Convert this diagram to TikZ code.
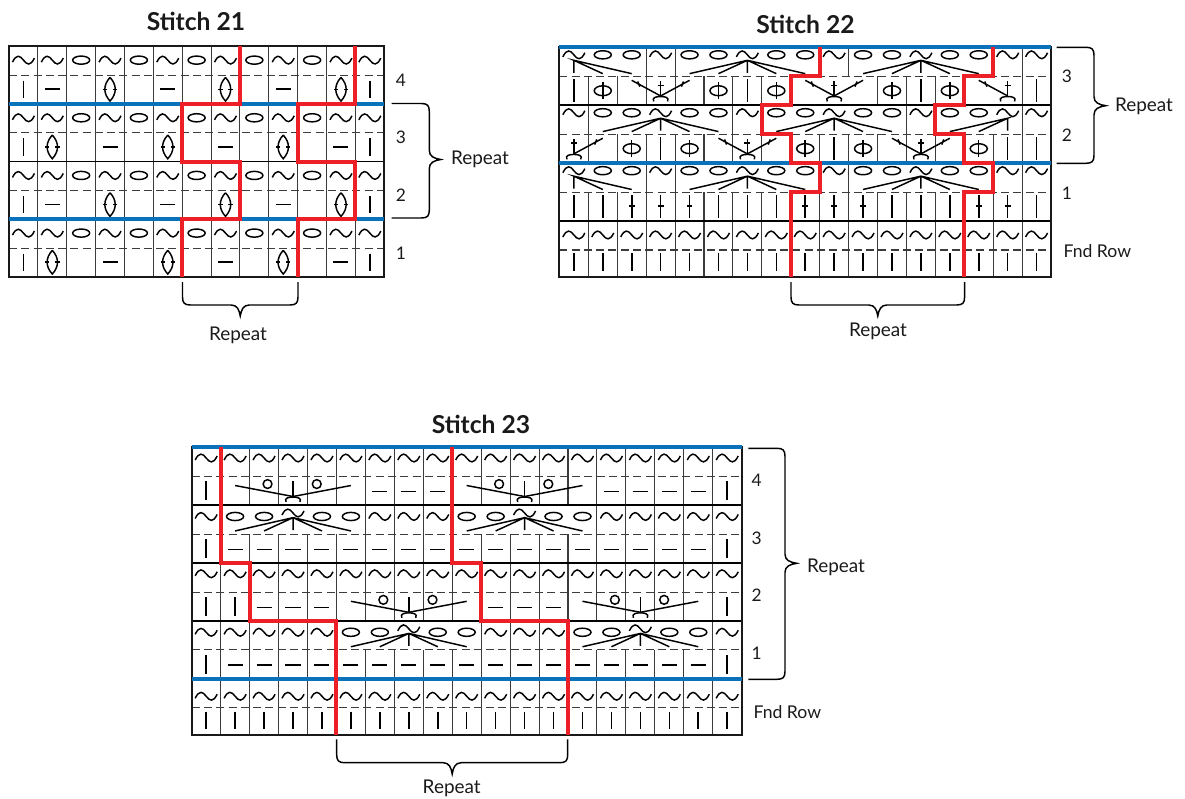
\documentclass[tikz,border=0pt]{standalone}
\usepackage{fontspec}
\setmainfont{Lato}
\newfontfamily\titlefont[Scale=1]{Lato Bold}
\definecolor{lblue}{HTML}{0A72BA}
\definecolor{lred}{HTML}{ED2028}
\definecolor{ink}{HTML}{1A1A1A}
\tikzset{
  sym/.style={line width=1.1pt,color=black,line cap=butt},
  vl/.style={line width=.8pt,color=ink!85!white},
  hl/.style={line width=1.1pt,color=black},
  dl/.style={line width=.8pt,color=ink!85!white,dash pattern=on 6pt off 3.2pt},
  frm/.style={line width=1.5pt,color=black!90!white},
  bluel/.style={line width=2.8pt,color=lblue},
  redl/.style={line width=3pt,color=lred,line join=miter},
  brc/.style={line width=1.1pt,color=black},
  lab/.style={font=\fontsize{14.2}{16}\selectfont,color=ink,inner sep=0pt},
  num/.style={font=\fontsize{13}{15}\selectfont,color=ink,inner sep=0pt},
  fnd/.style={font=\fontsize{13.2}{15}\selectfont,color=ink,inner sep=0pt,anchor=west},
  ttl/.style={font=\titlefont\fontsize{18.5}{20}\selectfont,color=ink,inner sep=0pt},
  pics/tld/.style={code={\draw[sym] (-.38,.07) .. controls (-.24,-.22) and (-.12,-.16) .. (0,0) .. controls (.12,.16) and (.24,.22) .. (.38,-.07);}},
  pics/yo/.style={code={\draw[sym] (0,0) ellipse [x radius=6.4pt,y radius=3.05pt];}},
  pics/bars/.style={code={\draw[sym,line width=1.2pt] (0,-.3) -- (0,.3);}},
  pics/barm/.style={code={\draw[sym,line width=1.2pt] (0,-.33) -- (0,.33);}},
  pics/barl/.style={code={\draw[sym,line width=1.2pt] (0,-.39) -- (0,.39);}},
  pics/dsh/.style={code={\draw[sym,line width=1.2pt] (-.26,0) -- (.26,0);}},
  pics/lens/.style={code={\draw[sym] (0,-.41) .. controls (-.24,-.15) and (-.24,.15) .. (0,.41) .. controls (.24,.15) and (.24,-.15) .. (0,-.41);
     \draw[sym] (-.25,0) -- (-.1,0) (.1,0) -- (.25,0);}},
  pics/phi/.style={code={\draw[sym] (0,0) ellipse [x radius=6.4pt,y radius=3.7pt];
     \draw[sym] (0,-.29) -- (0,.29);}},
  pics/tk/.style={code={\draw[sym,line width=1.2pt] (0,-.39) -- (0,.39);
     \draw[sym,line width=1.2pt] (-.1,-.02) -- (.1,-.02);}},
  pics/fan/.style={code={\draw[sym] (-2,.46) -- (0,0) -- (2,.46) (-1,.46) -- (0,0) -- (1,.46) (0,0) -- (0,.43);}},
  pics/lfan/.style={code={\draw[sym] (2,.46) -- (0,0) -- (1,.46) (0,0) -- (0,.43);}},
  pics/rfan/.style={code={\draw[sym] (-2,.46) -- (0,0) -- (-1,.46) (0,0) -- (0,.43);}},
  pics/capx/.style={code={\draw[sym] (-.24,.19) .. controls (-.32,.04) and (-.12,.02) .. (0,.02) .. controls (.12,.02) and (.32,.04) .. (.24,.19);}},
  pics/cent/.style={code={\draw[sym] (0,0) -- (0,-.52); \draw[sym] (-.1,-.37) -- (.1,-.37);}},
  pics/xx/.style={code={\draw[sym] (-1,-.54) -- (0,0) -- (1,-.54);
     \draw[sym] (-.79,-.5) -- (-.72,-.32) (.79,-.5) -- (.72,-.32);
     \pic {cent}; \pic {capx};}},
  pics/xl/.style={code={\draw[sym] (-1,-.54) -- (0,0);
     \draw[sym] (-.79,-.5) -- (-.72,-.32);
     \pic {cent}; \pic {capx};}},
  pics/xr/.style={code={\draw[sym] (0,0) -- (1,-.54);
     \draw[sym] (.79,-.5) -- (.72,-.32);
     \pic {cent}; \pic {capx};}},
  pics/dec/.style={code={\draw[sym] (-2,-.38) -- (0,0) -- (2,-.38);
     \draw[sym] (0,0) -- (0,-.52);
     \draw[sym] (-.88,-.43) circle [radius=3.3pt] (.82,-.43) circle [radius=3.3pt];
     \pic {capx};}},
}
% rows of symbols: #1 row, #2 vertical position, #3 list of col/type
\newcommand{\Syms}[3]{\foreach \cc/\kk in {#3} {\pic at (\cc+.5,#1+#2) {\kk};}}
\newcommand{\Verts}[3][1]{\foreach \cc in {#3} {\draw[vl] (\cc,#2) -- (\cc,#2+#1);}}
\newcommand{\RBrace}[6]{\draw[brc] (#1,#3) -- (#2-8,#3) .. controls (#2-2,#3) and (#2,#3+2) .. (#2,#3+8) -- (#2,#6-9) .. controls (#2,#6-3) and (#2+5,#6-1) .. (#5,#6) .. controls (#2+5,#6+1) and (#2,#6+3) .. (#2,#6+9) -- (#2,#4-8) .. controls (#2,#4-2) and (#2-2,#4) .. (#2-8,#4) -- (#1,#4);}
\newcommand{\BBrace}[5]{\draw[brc] (#1,#3) -- (#1,#4-8) .. controls (#1,#4-2) and (#1+2,#4) .. (#1+8,#4) -- (#2/2+#1/2-9,#4) .. controls (#2/2+#1/2-3,#4) and (#2/2+#1/2-1,#4+5) .. (#2/2+#1/2,#5) .. controls (#2/2+#1/2+1,#4+5) and (#2/2+#1/2+3,#4) .. (#2/2+#1/2+9,#4) -- (#2-8,#4) .. controls (#2-2,#4) and (#2,#4-2) .. (#2,#4-8) -- (#2,#3);}
\begin{document}
\begin{tikzpicture}[x=.75pt,y=-.75pt]
\useasboundingbox (0,0) rectangle (1185,799);
% ---------- Stitch 21
\node[ttl] (t21) at (196,21) {Stitch 21};
\begin{scope}[shift={(9,46.3)},x=21.65pt,y=-21.62pt]
  \foreach \r in {0,...,7} {\Verts{\r}{1,...,12}}
  \foreach \r in {1,3,5,7} {\draw[dl] (0,\r) -- (13,\r);}
  \draw[hl] (0,4) -- (13,4);
  \foreach \r in {0,2,4,6} {
    \Syms{\r}{.48}{0/tld,1/tld,2/yo,3/tld,4/yo,5/tld,6/yo,7/tld,8/yo,9/tld,10/yo,11/tld,12/tld}
  }
  \foreach \r in {1,5} {
    \Syms{\r}{.49}{0/bars,1/dsh,3/lens,5/dsh,7/lens,9/dsh,11/lens,12/bars}
  }
  \foreach \r in {3,7} {
    \Syms{\r}{.49}{0/bars,1/lens,3/dsh,5/lens,7/dsh,9/lens,11/dsh,12/bars}
  }
  \draw[frm] (0,0) rectangle (13,8);
  \draw[bluel] (0,2) -- (13,2) (0,6) -- (13,6);
  \foreach \o in {0,4} {
    \draw[redl] (\o+6,8) -- (\o+6,6) -- (\o+8,6) -- (\o+8,4) -- (\o+6,4) -- (\o+6,2) -- (\o+8,2) -- (\o+8,0);
  }
\end{scope}
\RBrace{391.7}{429.3}{103.5}{218}{440.7}{159.5}
\node[lab] (r21) at (480,159.5) {Repeat};
\node[num] (n214) at (401,80) {4};
\node[num] (n213) at (401,137.5) {3};
\node[num] (n212) at (401,195) {2};
\node[num] (n211) at (401,253) {1};
\BBrace{182.5}{298}{282}{305}{316}
\node[lab] (b21) at (238,335.5) {Repeat};
% ---------- Stitch 22
\node[ttl] (t22) at (805.5,24) {Stitch 22};
\begin{scope}[shift={(559.4,47.3)},x=21.69pt,y=-21.72pt]
  \Verts{0}{3,4,9,10,15,16}
  \Verts{1}{1,2,3,4,5,6,7,11,12,13,16}
  \Verts{2}{1,6,7,12,13,16}
  \Verts{3}{1,...,16}
  \Verts{4}{3,4,9,10,15,16}
  \Verts{5}{1,...,16}
  \Verts{6}{1,...,16}
  \Verts[.93]{7}{1,...,16}
  \foreach \r in {1,3,5,7} {\draw[dl] (0,\r) -- (17,\r);}
  \draw[hl] (0,2) -- (17,2) (0,6) -- (17,6);
  \foreach \r in {0,2,4} {
    \Syms{\r}{.26}{0/tld,1/yo,2/yo,3/tld,4/yo,5/yo,6/tld,7/yo,8/yo,9/tld,10/yo,11/yo,12/tld,13/yo,14/yo,15/tld,16/tld}
  }
  \foreach \r in {0,4} {
    \Syms{\r}{.45}{0/lfan,6/fan,12/fan}
  }
  \Syms{2}{.45}{3/fan,9/fan,15/rfan}
  \Syms{1}{.5}{0/barl,1/phi,5/phi,6/barl,7/phi,11/phi,12/barl,13/phi,16/barl}
  \Syms{1}{.68}{3/xx,9/xx,15/xl}
  \Syms{3}{.5}{2/phi,3/barl,4/phi,8/phi,9/barl,10/phi,14/phi,15/barl,16/barl}
  \Syms{3}{.68}{0/xr,6/xx,12/xx}
  \Syms{5}{.5}{0/barl,1/barl,2/tk,3/tk,4/tk,5/barl,6/barl,7/barl,8/tk,9/tk,10/tk,11/barl,12/barl,13/barl,14/tk,15/tk,16/barl}
  \foreach \c in {0,...,16} {
    \Syms{6}{.48}{\c/tld}
    \Syms{7}{.42}{\c/bars}
  }
  \draw[frm] (0,0) rectangle (17,7.93);
  \draw[bluel] (0,0) -- (17,0) (0,4) -- (17,4);
  \foreach \o in {0,6} {
    \draw[redl] (\o+8,7.93) -- (\o+8,5) -- (\o+9,5) -- (\o+9,4) -- (\o+8,4) -- (\o+8,3) -- (\o+7,3) -- (\o+7,2) -- (\o+8,2) -- (\o+8,1) -- (\o+9,1) -- (\o+9,0);
  }
\end{scope}
\RBrace{1056.7}{1094}{47.3}{163.3}{1105.7}{105.7}
\node[lab] (r22) at (1144,106) {Repeat};
\node[num] (n223) at (1067,76.7) {3};
\node[num] (n222) at (1067,135) {2};
\node[num] (n221) at (1067,193) {1};
\node[fnd] (f22) at (1063.3,250.7) {Fnd Row};
\BBrace{791}{964.6}{282}{305}{316}
\node[lab] (b22) at (878,331.5) {Repeat};
% ---------- Stitch 23
\node[ttl] (t23) at (481,424) {Stitch 23};
\begin{scope}[shift={(191.7,447.3)},x=21.71pt,y=-21.71pt]
  \foreach \r in {0,1,3,4,5,7,8} {\Verts{\r}{1,...,18}}
  \Verts[.93]{9}{1,...,18}
  \Verts{2}{1,6,7,8,9,14,15,16,17,18}
  \Verts{6}{1,2,3,4,5,10,11,12,13,18}
  \foreach \r in {1,3,5,7,9} {\draw[dl] (0,\r) -- (19,\r);}
  \draw[hl] (0,2) -- (19,2) (0,4) -- (19,4) (0,6) -- (19,6);
  \foreach \c in {0,...,18} {
    \Syms{0}{.37}{\c/tld}
    \Syms{4}{.37}{\c/tld}
    \Syms{8}{.6}{\c/tld}
    \Syms{9}{.44}{\c/bars}
  }
  % row 4
  \Syms{1}{.5}{0/barm,18/barm}
  \Syms{1}{.53}{6/dsh,7/dsh,8/dsh,14/dsh,15/dsh,16/dsh,17/dsh}
  \Syms{1}{.7}{3/dec,11/dec}
  % row 3
  \Syms{2}{.39}{0/tld,1/yo,2/yo,4/yo,5/yo,6/tld,7/tld,8/tld,9/yo,10/yo,12/yo,13/yo,14/tld,15/tld,16/tld,17/tld,18/tld}
  \Syms{2}{.27}{3/tld,11/tld}
  \Syms{2}{.43}{3/fan,11/fan}
  \Syms{3}{.5}{0/barm,18/barm}
  \foreach \c in {1,...,17} {\Syms{3}{.53}{\c/dsh}}
  % row 2
  \Syms{5}{.5}{0/barm,1/barm,18/barm}
  \Syms{5}{.53}{2/dsh,3/dsh,4/dsh,10/dsh,11/dsh,12/dsh}
  \Syms{5}{.7}{7/dec,15/dec}
  % row 1
  \Syms{6}{.39}{0/tld,1/tld,2/tld,3/tld,4/tld,5/yo,6/yo,8/yo,9/yo,10/tld,11/tld,12/tld,13/yo,14/yo,16/yo,17/yo,18/tld}
  \Syms{6}{.27}{7/tld,15/tld}
  \Syms{6}{.43}{7/fan,15/fan}
  \Syms{7}{.5}{0/barm,18/barm}
  \foreach \c in {1,...,17} {\Syms{7}{.53}{\c/dsh}}
  \draw[frm] (0,0) rectangle (19,9.93);
  \draw[bluel] (0,0) -- (19,0) (0,8) -- (19,8);
  \foreach \o in {0,8} {
    \draw[redl] (\o+1,0) -- (\o+1,4) -- (\o+2,4) -- (\o+2,6) -- (\o+5,6) -- (\o+5,9.93);
  }
\end{scope}
\RBrace{748.3}{785}{448.3}{679.3}{796.7}{563.3}
\node[lab] (r23) at (836,567.5) {Repeat};
\node[num] (n234) at (756.7,480.7) {4};
\node[num] (n233) at (756.7,538) {3};
\node[num] (n232) at (756.7,595.7) {2};
\node[num] (n231) at (756.7,653.3) {1};
\node[fnd] (f23) at (753.3,711.7) {Fnd Row};
\BBrace{336.7}{567.7}{739.3}{762.7}{774}
\node[lab] (b23) at (451.7,788.5) {Repeat};
\end{tikzpicture}
\end{document}
